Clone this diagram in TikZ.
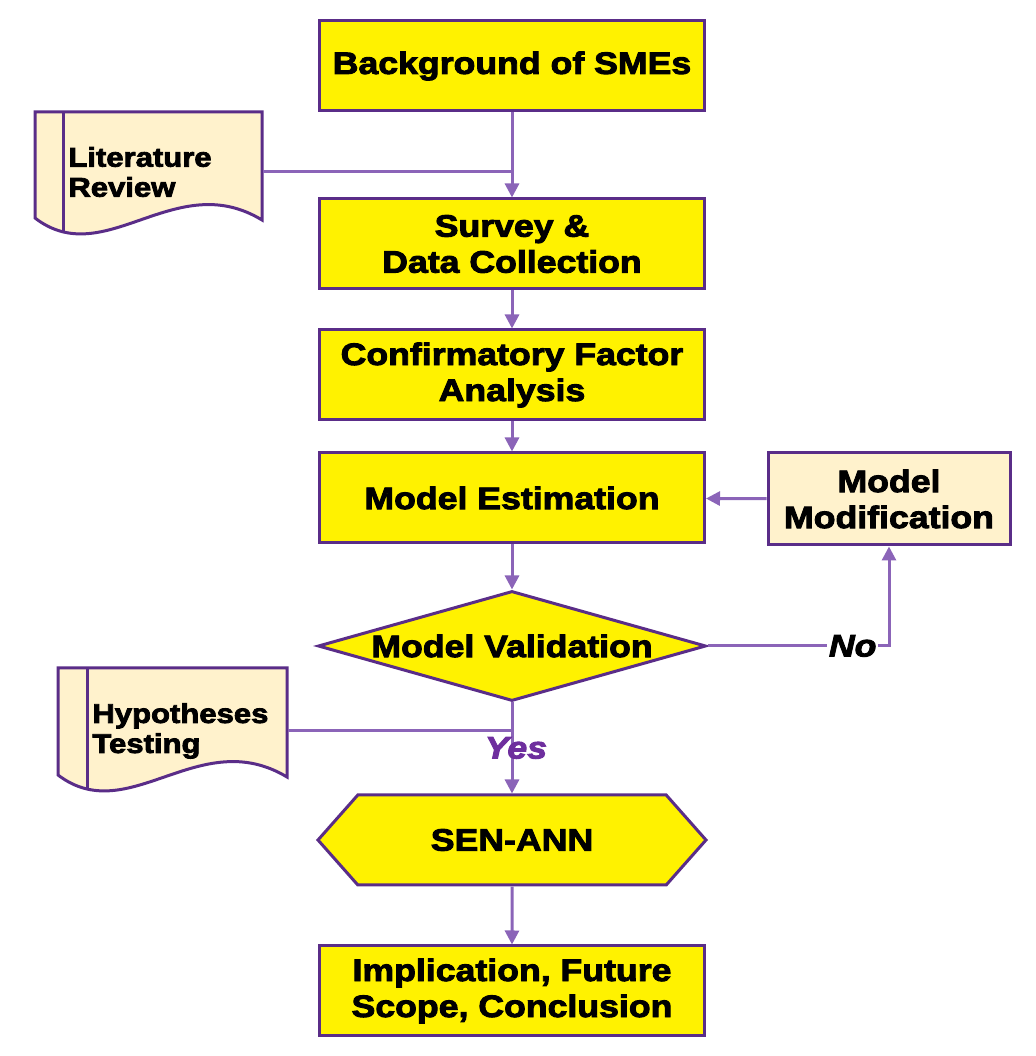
\documentclass[tikz,border=0pt]{standalone}
\usepackage{fontspec}
\setmainfont{Liberation Sans}[BoldFeatures={FakeBold=3,FakeStretch=1.15},BoldItalicFeatures={FakeBold=3,FakeStretch=1.15}]
\usepackage{tikz}
\usetikzlibrary{positioning,arrows.meta,shapes.geometric,shapes.symbols,calc}
\definecolor{boxline}{HTML}{5A2D88}
\definecolor{arrline}{HTML}{8B64B8}
\definecolor{yesclr}{HTML}{6E2E9E}
\definecolor{docfill}{HTML}{FFF2CC}

\begin{document}
\begin{tikzpicture}[
    x=0.5pt, y=0.5pt,
    stepnode/.style={draw=boxline, line width=1.5pt, fill=yellow, font=\bfseries\fontsize{15.5}{18}\selectfont, align=center, minimum width=192.5pt, minimum height=45pt},
    decnode/.style={diamond, aspect=3.5, draw=boxline, line width=1.5pt, fill=yellow, font=\bfseries\fontsize{15.5}{18}\selectfont, inner sep=0pt, minimum width=194pt, minimum height=55pt},
    hexnode/.style={signal, signal to=west and east, signal pointer angle=97, draw=boxline, line width=1.5pt, fill=yellow, font=\bfseries\fontsize{15.5}{18}\selectfont, minimum width=194pt, minimum height=45pt},
    modnode/.style={stepnode, fill=docfill, minimum width=121pt, minimum height=46pt},
    doctext/.style={font=\bfseries\fontsize{13.5}{15}\selectfont, align=left, anchor=west, inner sep=2.5pt},
    docshape/.style={draw=boxline, line width=1.5pt, fill=docfill},
    conn/.style={-{Triangle[length=7pt, width=7pt]}, line width=1.5pt, arrline},
    link/.style={line width=1.5pt, arrline},
    nolabel/.style={fill=white, inner sep=1pt, font=\bfseries\itshape\fontsize{15.5}{18}\selectfont, text=black},
    yeslabel/.style={inner sep=0pt, font=\bfseries\itshape\fontsize{15.5}{18}\selectfont, text=yesclr}
]
\useasboundingbox (0,0) rectangle (1036,1056);

% Document shapes (drawn first, text nodes on top)
\begin{scope}[shift={(35,944)}]
    \draw[docshape] (0,0) -- (227,0) -- (227,-108) .. controls (140,-55) and (70,-160) .. (0,-106) -- cycle;
    \draw[boxline, line width=1.5pt] (28,0) -- (28,-121);
\end{scope}
\begin{scope}[shift={(58,388)}]
    \draw[docshape] (0,0) -- (229,0) -- (229,-109) .. controls (141,-56) and (71,-161) .. (0,-107) -- cycle;
    \draw[boxline, line width=1.5pt] (29,0) -- (29,-122);
\end{scope}

% Main flow
\node[stepnode] (bg) at (512,990) {Background of SMEs};
\node[stepnode] (survey) at (512,812) {Survey \&\\Data Collection};
\node[stepnode] (cfa) at (512,681) {Confirmatory Factor\\Analysis};
\node[stepnode] (est) at (512,558) {Model Estimation};
\node[decnode] (valid) at (512,410) {Model Validation};
\node[hexnode] (sen) at (512,216) {SEN-ANN};
\node[stepnode] (impl) at (512,65) {Implication, Future\\Scope, Conclusion};

% Side nodes
\node[modnode] (modif) at (889,557) {Model\\Modification};
\node[doctext, text width=94.5pt] (lit) at (63,884) {Literature\\Review};
\node[doctext, text width=95pt] (hyp) at (87,325) {Hypotheses\\Testing};

% Connectors
\draw[conn] (bg) -- (survey);
\draw[link] (lit.east) -- (lit.east -| survey.north);
\draw[conn] (survey) -- (cfa);
\draw[conn] (cfa) -- (est);
\draw[conn] (est) -- (valid);
\draw[conn] (valid.east) -| node[nolabel, pos=0.4] {No} (modif.south);
\draw[conn] (modif) -- (est);
\draw[link] (hyp.east) -- (hyp.east -| valid.south);
\draw[conn] (valid.south) -- node[yeslabel, pos=0.5, xshift=2pt] {Yes} (sen.north);
\draw[conn] (sen) -- (impl);

\end{tikzpicture}
\end{document}
